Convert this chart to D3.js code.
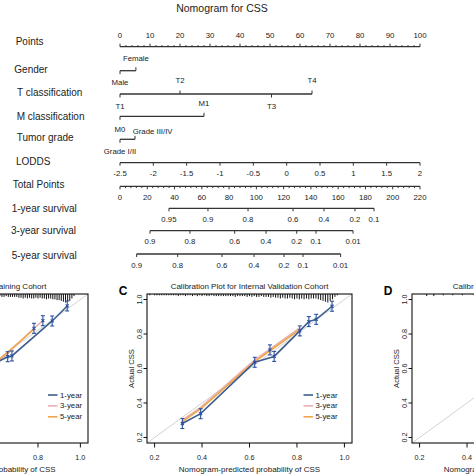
<!DOCTYPE html>
<html><head><meta charset="utf-8">
<script src="https://cdn.jsdelivr.net/npm/d3@7"></script>
<style>body{margin:0;background:#fff}svg{display:block}text{font-family:"Liberation Sans",Arial,sans-serif;fill:#222}</style>
</head><body><svg id="c" width="474" height="474"></svg>
<script>
// ---------------- DATA ----------------
const nomoTitle = "Nomogram for CSS";
const rowNames = ["Points","Gender","T classification","M classification","Tumor grade","LODDS","Total Points","1-year survival","3-year survival","5-year survival"];
const pointsTicks = d3.range(0, 101, 10);
const pointsMinor = d3.range(0, 101, 2);
const genderLevels = ["Male","Female"];
const genderPoints = [0, 5.3];
const tLevels = ["T1","T2","T3","T4"];
const tPoints = [0, 20, 50.5, 64];
const mLevels = ["M0","M1"];
const mPoints = [0, 28];
const gradeLevels = ["Grade I/II","Grade III/IV"];
const gradePoints = [0, 5];
const loddsTicks = [-2.5,-2,-1.5,-1,-0.5,0,0.5,1,1.5,2];
const totalTicks = d3.range(0, 221, 20);
const totalMinor = d3.range(0, 221, 4);
const surv1Labels = ["0.95","0.9","0.8","0.6","0.4","0.2","0.1"];
const surv1Total  = [35.9, 64.5, 93.9, 126.9, 149.6, 172.3, 186.3];
const surv3Labels = ["0.9","0.8","0.6","0.4","0.2","0.1","0.01"];
const surv3Total  = [22, 51.3, 84.1, 107.1, 129.6, 143.7, 170.9];
const surv5Labels = ["0.9","0.8","0.6","0.4","0.2","0.1","0.01"];
const surv5Total  = [12.2, 42.3, 74.8, 98.3, 120.3, 134.2, 161.8];

// Calibration – training cohort (B)
const predB1 = [0.35, 0.52, 0.657, 0.677, 0.867, 0.938];
const obsB1  = [0.33, 0.53, 0.627, 0.632, 0.860, 0.958];
const predB3 = [0.30, 0.45, 0.62, 0.781, 0.823];
const obsB3  = [0.27, 0.43, 0.60, 0.812, 0.862];
const predB5 = [0.30, 0.45, 0.62, 0.781];
const obsB5  = [0.28, 0.44, 0.612, 0.806];
const errBpred = [0.657, 0.677, 0.781, 0.823, 0.867, 0.938];
const errBobs  = [0.627, 0.632, 0.812, 0.862, 0.860, 0.958];
const rugBStart = 0.10;
const rugB = [0,1,0,1,0,1,1,0,1,1, 1,1,1,1,1,1,1,1,1,1, 1,1,1,2,1,1,2,1,1,2, 1,2,1,2,2,1,2,2,1,2,
              2,2,2,2,2,2,3,2,2,3, 2,3,2,3,3,2,3,3,3,3, 3,4,4,5,4,5,4,5,5,4, 5,4,5,5,6,5,5,6,6,7,
              7,8,9,10,9,8,5,2];

// Calibration – internal validation cohort (C)
const predC1 = [0.317, 0.394, 0.622, 0.704, 0.812, 0.850, 0.881, 0.948];
const obsC1  = [0.281, 0.338, 0.636, 0.670, 0.818, 0.872, 0.885, 0.961];
const predC3 = [0.317, 0.394, 0.622, 0.686, 0.812];
const obsC3  = [0.300, 0.375, 0.650, 0.712, 0.835];
const predC5 = [0.317, 0.394, 0.622, 0.686, 0.812];
const obsC5  = [0.292, 0.366, 0.640, 0.703, 0.825];
const errCpred = [0.317, 0.394, 0.622, 0.686, 0.704, 0.812, 0.850, 0.881, 0.948];
const errCobs  = [0.281, 0.338, 0.636, 0.708, 0.670, 0.818, 0.872, 0.885, 0.961];
const rugCStart = 0.18;
const rugC = [1,0,1,1,1,1,1,1,1,1, 1,1,2,1,1,2,1,1,2,1, 2,1,2,1,2,2,1,2,2,2, 2,2,2,2,2,2,3,2,2,2,
              2,3,2,3,2,3,3,2,3,3, 3,4,3,4,4,5,4,5,5,4, 5,6,5,6,5,6,5,6,5,5, 5,6,7,8,9,10,8,6,3,1];

// Calibration – external cohort (D)
const rugDStart = 0.18;
const rugD = [0,0,0,0,0,2,0,0,2,0,0,0,1,0,0,0,1,0,0,0,1,0,0,0,0,1];

const calTicks = [0.2, 0.4, 0.6, 0.8, 1.0];
const legendLabels = ["1-year","3-year","5-year"];

// ---------------- DRAW ----------------
const svg = d3.select("#c");
svg.append("rect").attr("width",474).attr("height",474).attr("fill","#fff");
const ink = "#333";
const FS_TICK = 7.8;

const xPts = d3.scaleLinear().domain([0,100]).range([120,420]);
const xLodds = d3.scaleLinear().domain([-2.5,2]).range([120,420]);
const xTot = d3.scaleLinear().domain([0,220]).range([120,420]);

svg.append("text").attr("x",222).attr("y",8).attr("text-anchor","middle").attr("dominant-baseline","central")
  .attr("font-size",10.5).text(nomoTitle);

const rowLabelX = [15.7,14.3,17,16.7,16.7,16,12.7,11.7,11,11.7];
const rowLabelY = [41.7,69,92.3,116,137.7,161.7,184,208.3,230,255.7];
rowNames.forEach((n,i)=>{
  svg.append("text").attr("x",rowLabelX[i]).attr("y",rowLabelY[i]).attr("dominant-baseline","central")
    .attr("font-size",10).text(n);
});

function hline(x1,x2,y){ svg.append("line").attr("x1",x1).attr("x2",x2).attr("y1",y).attr("y2",y).attr("stroke",ink).attr("stroke-width",1.3); }
function vtick(x,y,len){ svg.append("line").attr("x1",x).attr("x2",x).attr("y1",y).attr("y2",y+len).attr("stroke",ink).attr("stroke-width",1); }
function label(x,y,t,anchor){ svg.append("text").attr("x",x).attr("y",y).attr("text-anchor",anchor||"middle")
   .attr("dominant-baseline","central").attr("font-size",FS_TICK).text(t); }

// Points axis
const yPts = 46.7;
hline(xPts(0), xPts(100), yPts);
pointsMinor.forEach(v=> vtick(xPts(v), yPts, v%10===0 ? -3 : -1.6));
pointsTicks.forEach(v=> label(xPts(v), 35, v));

// categorical axes
function catAxis(levels, pts, y, sides, offsets, anchors, dx){
  hline(xPts(d3.min(pts)), xPts(d3.max(pts)), y);
  levels.forEach((l,i)=>{
    const up = sides[i]==="a";
    vtick(xPts(pts[i]), y, up ? -3.5 : 3.5);
    label(xPts(pts[i]) + (dx ? dx[i] : 0), y + offsets[i], l, anchors ? anchors[i] : "middle");
  });
}
catAxis(genderLevels, genderPoints, 70.7, ["b","a"], [11.6,-12]);
catAxis(tLevels, tPoints, 94, ["b","a","b","a"], [12,-13.3,12,-13.3]);
catAxis(mLevels, mPoints, 116.3, ["b","a"], [13,-13]);
catAxis(gradeLevels, gradePoints, 139.3, ["b","a"], [12.4,-8.3], ["middle","start"], [0,-2.3]);

// LODDS
hline(xLodds(-2.5), xLodds(2), 162.7);
loddsTicks.forEach(v=>{ vtick(xLodds(v),162.7,3); label(xLodds(v),173.5,v); });

// Total points
hline(xTot(0), xTot(220), 186.3);
totalMinor.forEach(v=> vtick(xTot(v),186.3, v%20===0 ? 3 : 1.8));
totalTicks.forEach(v=> label(xTot(v),197,v));

// survival axes
function survAxis(labels, tot, y){
  hline(xTot(d3.min(tot)), xTot(d3.max(tot)), y);
  tot.forEach((t,i)=>{ vtick(xTot(t), y, 3); label(xTot(t), y+11.2, labels[i]); });
}
survAxis(surv1Labels, surv1Total, 208.3);
survAxis(surv3Labels, surv3Total, 230.7);
survAxis(surv5Labels, surv5Total, 254);

// ---------------- calibration panels ----------------
const colBlue = "#3c5d8d", colPink = "#e8b2b0", colOrange = "#f0a54c", colErr = "#2c52a0";
let clipId = 0;
const onScreen = v => v > 4 && v < 470;
function calPanel(c){
  const px = (c.xlim[1]-c.xlim[0])*0.04, py = (c.ylim[1]-c.ylim[0])*0.04;
  const x = d3.scaleLinear().domain([c.xlim[0]-px, c.xlim[1]+px]).range([c.left, c.right]);
  const y = d3.scaleLinear().domain([c.ylim[0]-py, c.ylim[1]+py]).range([c.bottom, c.top]);
  const id = "clip"+(clipId++);
  svg.append("clipPath").attr("id",id).append("rect").attr("x",c.left).attr("y",c.top)
     .attr("width",c.right-c.left).attr("height",c.bottom-c.top);
  const g = svg.append("g").attr("clip-path",`url(#${id})`);
  const d0 = Math.min(x.domain()[0], y.domain()[0]), d1 = Math.max(x.domain()[1], y.domain()[1]);
  g.append("line").attr("x1",x(d0)).attr("y1",y(d0)).attr("x2",x(d1)).attr("y2",y(d1))
    .attr("stroke","#d2d2d2").attr("stroke-width",1);
  // rug / histogram
  const rl = d3.scaleLinear().domain([0,10]).range([0,8]);
  c.rug.forEach((n,i)=>{
    if(!n) return;
    const xv = x(c.rugStart + i*0.01);
    g.append("line").attr("x1",xv).attr("x2",xv).attr("y1",c.top).attr("y2",c.top+rl(n)+0.5)
      .attr("stroke","#111").attr("stroke-width",1);
  });
  const line = d3.line().x(d=>x(d[0])).y(d=>y(d[1]));
  const series = [[c.p3,c.o3,colPink],[c.p5,c.o5,colOrange],[c.p1,c.o1,colBlue]];
  series.forEach(s=>{
    if(!s[0]) return;
    g.append("path").attr("d", line(d3.zip(s[0],s[1]))).attr("fill","none").attr("stroke",s[2]).attr("stroke-width",1.6);
  });
  if(c.ep){
    c.ep.forEach((p,i)=>{
      const cx = x(p), cy = y(c.eo[i]), e = 5;
      const eg = g.append("g").attr("stroke",colErr).attr("stroke-width",1.1);
      eg.append("line").attr("x1",cx).attr("x2",cx).attr("y1",cy-e).attr("y2",cy+e);
      eg.append("line").attr("x1",cx-2).attr("x2",cx+2).attr("y1",cy-e).attr("y2",cy-e);
      eg.append("line").attr("x1",cx-2).attr("x2",cx+2).attr("y1",cy+e).attr("y2",cy+e);
      eg.append("line").attr("x1",cx-1.5).attr("x2",cx+1.5).attr("y1",cy-1.5).attr("y2",cy+1.5);
      eg.append("line").attr("x1",cx-1.5).attr("x2",cx+1.5).attr("y1",cy+1.5).attr("y2",cy-1.5);
    });
  }
  // frame
  svg.append("rect").attr("x",c.left).attr("y",c.top).attr("width",c.right-c.left).attr("height",c.bottom-c.top)
    .attr("fill","none").attr("stroke","#111").attr("stroke-width",1.1);
  // axes
  c.xt.forEach(v=>{
    svg.append("line").attr("x1",x(v)).attr("x2",x(v)).attr("y1",c.bottom).attr("y2",c.bottom+4.5).attr("stroke","#111");
    if(onScreen(x(v)))
      svg.append("text").attr("x",x(v)).attr("y",c.bottom+14).attr("text-anchor","middle").attr("dominant-baseline","central")
        .attr("font-size",7.2).text(v.toFixed(1));
  });
  c.yt.forEach(v=>{
    svg.append("line").attr("x1",c.left).attr("x2",c.left-3.5).attr("y1",y(v)).attr("y2",y(v)).attr("stroke","#111");
    if(onScreen(c.left-7.5))
      svg.append("text").attr("transform",`translate(${c.left-7.5},${y(v)}) rotate(-90)`).attr("text-anchor","middle")
        .attr("dominant-baseline","central").attr("font-size",7.2).text(v.toFixed(1));
  });
  const cxm = (c.left+c.right)/2;
  svg.append("text").attr("x",cxm).attr("y",c.top-8).attr("text-anchor","middle").attr("dominant-baseline","central")
    .attr("font-size",8).text(c.title);
  svg.append("text").attr("x",cxm).attr("y",c.bottom+26).attr("text-anchor","middle").attr("dominant-baseline","central")
    .attr("font-size",8).text("Nomogram-predicted probability of CSS");
  if(onScreen(c.left-16))
    svg.append("text").attr("transform",`translate(${c.left-16},${(c.top+c.bottom)/2}) rotate(-90)`).attr("text-anchor","middle")
      .attr("dominant-baseline","central").attr("font-size",7.6).text("Actual CSS");
  if(c.letter){
    svg.append("text").attr("x",c.left-24).attr("y",c.top-3).attr("text-anchor","middle").attr("dominant-baseline","central")
      .attr("font-size",12).attr("font-weight","bold").style("fill","#000").text(c.letter);
  }
  if(c.legend){
    [colBlue,colPink,colOrange].forEach((col,i)=>{
      const ly = c.legend[1] + i*10.9;
      svg.append("line").attr("x1",c.legend[0]).attr("x2",c.legend[0]+9.5).attr("y1",ly).attr("y2",ly)
        .attr("stroke",col).attr("stroke-width",1.6);
      svg.append("text").attr("x",c.legend[0]+12).attr("y",ly).attr("dominant-baseline","central")
        .attr("font-size",7.8).text(legendLabels[i]);
    });
  }
}

calPanel({left:-118,right:88,top:294,bottom:443,xlim:[0.1,1.0],ylim:[0.1,1.0],
  title:"Calibration Plot for Training Cohort",rug:rugB,rugStart:rugBStart,
  p1:predB1,o1:obsB1,p3:predB3,o3:obsB3,p5:predB5,o5:obsB5,ep:errBpred,eo:errBobs,
  xt:calTicks,yt:calTicks,legend:[48,395]});
calPanel({left:147,right:352,top:294,bottom:443,xlim:[0.2,1.0],ylim:[0.2,1.0],
  title:"Calibration Plot for Internal Validation Cohort",rug:rugC,rugStart:rugCStart,
  p1:predC1,o1:obsC1,p3:predC3,o3:obsC3,p5:predC5,o5:obsC5,ep:errCpred,eo:errCobs,
  xt:calTicks,yt:calTicks,legend:[303.5,395],letter:"C"});
calPanel({left:412,right:617,top:294,bottom:443,xlim:[0.2,1.0],ylim:[0.2,1.0],
  title:"Calibration Plot for External Cohort",rug:rugD,rugStart:rugDStart,
  xt:calTicks,yt:calTicks,letter:"D"});
</script></body></html>
